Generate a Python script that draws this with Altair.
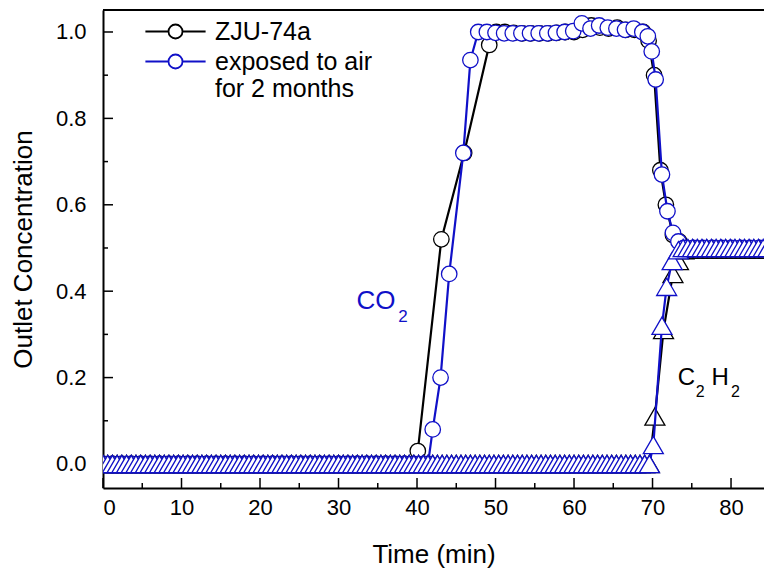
import altair as alt
import pandas as pd
import numpy as np

FONT = "Liberation Sans"
BLACK = "#000000"
BLUE = "#1010c8"
S1 = "ZJU-74a"
S2 = "exposed to air for 2 months"

W, H = 661, 478
XDOM = [0, 84.2]
YDOM = [-0.0556, 1.0509]

# ---------------- CO2, ZJU-74a (black) ----------------
co2_a_base_t = [float(x) for x in np.round(np.arange(0.0, 39.7, 1.2), 1)]
co2_a_t = co2_a_base_t + [40.1, 43.1, 46.0, 49.2,
                          50.1, 51.2, 52.3, 53.4, 54.5, 55.6, 56.7, 57.8, 58.9, 60.0,
                          61.1, 62.2, 63.3, 64.4, 65.5, 66.6, 67.7, 68.8,
                          69.5, 70.2, 71.0, 71.7, 72.6, 73.4, 74.2,
                          75.4, 76.6, 77.8, 79.0, 80.2, 81.4, 82.6, 83.8, 85.0]
co2_a_v = [0.0] * len(co2_a_base_t) + [0.03, 0.52, 0.72, 0.97,
                                       1.0, 1.0, 0.998, 0.997, 0.997, 0.997, 0.997, 0.998, 1.0, 1.0,
                                       1.005, 1.015, 1.01, 1.008, 1.01, 1.005, 1.005, 1.0,
                                       0.98, 0.9, 0.68, 0.6, 0.53, 0.515, 0.495,
                                       0.495, 0.495, 0.495, 0.495, 0.495, 0.495, 0.495, 0.495, 0.495]

# ---------------- CO2, exposed to air (blue) ----------------
co2_b_base_t = [float(x) for x in np.round(np.arange(0.0, 40.9, 1.2), 1)]
co2_b_t = co2_b_base_t + [41.4, 42.0, 43.0, 44.1, 45.9, 46.8,
                          47.8, 48.9, 50.0, 51.1, 52.2, 53.3, 54.4, 55.5, 56.6, 57.7,
                          58.8, 59.9, 61.0, 62.1, 63.2, 64.3, 65.4, 66.5, 67.6, 68.7,
                          69.4, 69.9, 70.4, 71.2, 71.9, 72.6, 73.3, 74.0,
                          75.2, 76.4, 77.6, 78.8, 80.0, 81.2, 82.4, 83.6, 84.8]
co2_b_v = [0.0] * len(co2_b_base_t) + [0.0, 0.08, 0.2, 0.44, 0.72, 0.935,
                                       1.0, 1.0, 0.998, 0.997, 0.997, 0.997, 0.997, 0.997, 0.997, 0.998,
                                       1.0, 1.002, 1.02, 1.008, 1.015, 1.01, 1.008, 1.005, 1.008, 1.0,
                                       0.99, 0.955, 0.89, 0.67, 0.585, 0.535, 0.515, 0.5,
                                       0.5, 0.5, 0.5, 0.5, 0.5, 0.5, 0.5, 0.5, 0.5]

# ---------------- C2H2, ZJU-74a (black) ----------------
c2h2_a_base_t = [float(x) for x in np.round(np.arange(0.0, 69.7, 0.6), 1)]
c2h2_a_plat_t = [float(x) for x in np.round(np.arange(74.6, 85.0, 0.6), 1)]
c2h2_a_t = c2h2_a_base_t + [70.3, 71.4, 72.6, 73.3, 74.0] + c2h2_a_plat_t
c2h2_a_v = [0.0] * len(c2h2_a_base_t) + [0.11, 0.31, 0.44, 0.47, 0.495] + [0.497] * len(c2h2_a_plat_t)

# ---------------- C2H2, exposed to air (blue) ----------------
c2h2_b_base_t = [float(x) for x in np.round(np.arange(0.0, 69.7, 0.6), 1)]
c2h2_b_plat_t = [float(x) for x in np.round(np.arange(73.9, 85.0, 0.6), 1)]
c2h2_b_t = c2h2_b_base_t + [70.1, 71.2, 71.8, 72.5, 73.3] + c2h2_b_plat_t
c2h2_b_v = [0.0] * len(c2h2_b_base_t) + [0.044, 0.32, 0.41, 0.47, 0.495] + [0.5] * len(c2h2_b_plat_t)

# ticks
x_major = [0, 10, 20, 30, 40, 50, 60, 70, 80]
x_minor = [5, 15, 25, 35, 45, 55, 65, 75]
y_major = [0.0, 0.2, 0.4, 0.6, 0.8, 1.0]
y_minor = [0.1, 0.3, 0.5, 0.7, 0.9]

# annotations
ann_big_t = [32.3, 73.2, 77.5]
ann_big_v = [0.378, 0.20, 0.20]
ann_big_text = ["CO", "C", "H"]
ann_big_color = [BLUE, BLACK, BLACK]
ann_big_size = [26, 24, 24]
ann_sub_t = [37.6, 75.5, 80.0]
ann_sub_v = [0.34, 0.166, 0.166]
ann_sub_text = ["2", "2", "2"]
ann_sub_color = [BLUE, BLACK, BLACK]
ann_sub_size = [17, 16, 16]


def frame(t, v, s):
    return pd.DataFrame({"t": t, "v": v, "series": s})


xs = alt.Scale(domain=XDOM, nice=False, zero=False)
ys = alt.Scale(domain=YDOM, nice=False, zero=False)

legend = alt.Legend(
    title=None, orient="none", legendX=60, legendY=9,
    symbolType="M-4.3,0L-1,0M1,0L4.3,0M1,0A1,1 0 1,1 -1,0A1,1 0 1,1 1,0",
    symbolSize=196, symbolStrokeWidth=1.8, symbolFillColor="white",
    labelFont=FONT, labelFontSize=25, labelOffset=27, labelLimit=400, labelColor="black",
    labelExpr="datum.label == 'exposed to air for 2 months' ? ['exposed to air', 'for 2 months'] : datum.label",
    rowPadding=4, padding=0,
)
color = alt.Color("series:N", scale=alt.Scale(domain=[S1, S2], range=[BLACK, BLUE]), legend=legend)

xenc = alt.X("t:Q", scale=xs, title="Time (min)",
             axis=alt.Axis(values=x_major, ticks=False, grid=False, domainColor="black", domainWidth=2,
                           labelFont=FONT, labelFontSize=22, labelColor="black", labelPadding=9,
                           titleFont=FONT, titleFontSize=26, titleFontWeight="normal", titleColor="black",
                           titlePadding=23))
yenc = alt.Y("v:Q", scale=ys, title="Outlet Concentration",
             axis=alt.Axis(values=y_major, format=".1f", ticks=False, grid=False, domainColor="black",
                           domainWidth=2, labelFont=FONT, labelFontSize=22, labelColor="black",
                           labelPadding=17, titleFont=FONT, titleFontSize=26, titleFontWeight="normal",
                           titleColor="black", titlePadding=19))


def series_layers(df, shape, size):
    line = alt.Chart(df).mark_line(strokeWidth=2.2, clip=True).encode(x=xenc, y=yenc, color=color, order="t:Q")
    pts = alt.Chart(df).mark_point(shape=shape, size=size, filled=False, fill="white", opacity=1,
                                   strokeWidth=1.3, clip=True).encode(x=xenc, y=yenc, color=color)
    return [line, pts]


df_co2_a = frame(co2_a_t, co2_a_v, S1)
df_co2_b = frame(co2_b_t, co2_b_v, S2)
df_c2_a = frame(c2h2_a_t, c2h2_a_v, S1)
df_c2_b = frame(c2h2_b_t, c2h2_b_v, S2)

tick_x_major = alt.Chart(pd.DataFrame({"t": x_major})).mark_rule(color="black", strokeWidth=1.5).encode(
    x=alt.X("t:Q", scale=xs), y=alt.value(H), y2=alt.value(H - 10))
tick_x_minor = alt.Chart(pd.DataFrame({"t": x_minor})).mark_rule(color="black", strokeWidth=1.5).encode(
    x=alt.X("t:Q", scale=xs), y=alt.value(H), y2=alt.value(H - 5))
tick_y_major = alt.Chart(pd.DataFrame({"v": y_major})).mark_rule(color="black", strokeWidth=1.5).encode(
    y=alt.Y("v:Q", scale=ys), x=alt.value(0), x2=alt.value(10))
tick_y_minor = alt.Chart(pd.DataFrame({"v": y_minor})).mark_rule(color="black", strokeWidth=1.5).encode(
    y=alt.Y("v:Q", scale=ys), x=alt.value(0), x2=alt.value(5))
top_border = alt.Chart(pd.DataFrame({"a": [0]})).mark_rule(color="black", strokeWidth=2).encode(
    x=alt.value(0), x2=alt.value(W), y=alt.value(0))

ann_big = alt.Chart(pd.DataFrame({"t": ann_big_t, "v": ann_big_v, "txt": ann_big_text,
                                  "c": ann_big_color, "s": ann_big_size})).mark_text(
    font=FONT, align="left", baseline="middle").encode(
    x=alt.X("t:Q", scale=xs), y=alt.Y("v:Q", scale=ys), text="txt:N",
    color=alt.Color("c:N", scale=None), size=alt.Size("s:Q", scale=None))
ann_sub = alt.Chart(pd.DataFrame({"t": ann_sub_t, "v": ann_sub_v, "txt": ann_sub_text,
                                  "c": ann_sub_color, "s": ann_sub_size})).mark_text(
    font=FONT, align="left", baseline="middle").encode(
    x=alt.X("t:Q", scale=xs), y=alt.Y("v:Q", scale=ys), text="txt:N",
    color=alt.Color("c:N", scale=None), size=alt.Size("s:Q", scale=None))

layers = [tick_x_major, tick_x_minor, tick_y_major, tick_y_minor, top_border]
layers += series_layers(df_co2_a, "circle", 240)
layers += series_layers(df_co2_b, "circle", 240)
layers += series_layers(df_c2_a, "triangle-up", 400)
layers += series_layers(df_c2_b, "triangle-up", 400)
layers += [ann_big, ann_sub]

chart = alt.layer(*layers).properties(
    width=W, height=H,
    autosize=alt.AutoSizeParams(type="none"),
    padding={"left": 103, "top": 10, "right": 0, "bottom": 89},
).configure_view(stroke=None).configure(background="white")

chart.save("out.html", embed_options={"renderer": "svg", "actions": False})
